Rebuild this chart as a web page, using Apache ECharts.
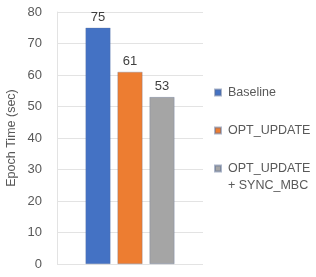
<!DOCTYPE html>
<html><head><meta charset="utf-8">
<script src="https://cdn.jsdelivr.net/npm/echarts@6/dist/echarts.min.js"></script>
<style>html,body{margin:0;padding:0;background:#fff}#c{width:316px;height:277px}</style>
</head><body><div id="c"></div>
<script>
const categories = [''];
const seriesNames = ['Baseline', 'OPT_UPDATE', 'OPT_UPDATE + SYNC_MBC'];
const baseline = [75];
const optUpdate = [61];
const optSync = [53];
const yTicks = [0, 10, 20, 30, 40, 50, 60, 70, 80];
const colors = ['#4472C4', '#ED7D31', '#A5A5A5'];
const values = [baseline, optUpdate, optSync];
const font = 'Liberation Sans, Arial, sans-serif';

const chart = echarts.init(document.getElementById('c'), null, {renderer: 'canvas'});
const legendTops = [86, 124, 162];
chart.setOption({
  animation: false,
  grid: {left: 57, right: 113, top: 12, bottom: 13},
  xAxis: {
    type: 'category', data: categories,
    axisLine: {show: false}, axisTick: {show: false}, axisLabel: {show: false},
    splitLine: {show: false}
  },
  yAxis: {
    type: 'value', min: yTicks[0], max: yTicks[yTicks.length - 1], interval: 10,
    name: 'Epoch Time (sec)', nameLocation: 'middle', nameGap: 39,
    nameTextStyle: {color: '#595959', fontSize: 12.5, fontFamily: font},
    axisLine: {show: true, lineStyle: {color: '#e3e3e3'}},
    axisTick: {show: false},
    axisLabel: {color: '#595959', fontSize: 13, fontFamily: font, margin: 15},
    splitLine: {lineStyle: {color: '#e3e3e3'}}
  },
  legend: seriesNames.map((n, i) => ({
    data: [n], left: 214, top: legendTops[i], orient: 'vertical', padding: 0,
    itemWidth: 6, itemHeight: 6, itemGap: 0, icon: 'rect',
    formatter: (name) => name === seriesNames[2] ? 'OPT_UPDATE' : name,
    textStyle: {color: '#595959', fontSize: 12.5, fontFamily: font, padding: [0, 0, 0, 2]}
  })),
  graphic: [{
    type: 'text', left: 228, top: legendTops[2] + 17,
    style: {text: '+ SYNC_MBC', fill: '#595959', fontSize: 12.5, fontFamily: font}
  }],
  series: seriesNames.map((n, i) => ({
    name: n, type: 'bar', data: values[i], barWidth: 25, barGap: '28%',
    itemStyle: {color: colors[i], borderColor: 'rgba(90,110,150,0.5)', borderWidth: 0.6},
    label: {show: true, position: 'top', distance: 4, color: '#404040', fontSize: 13, fontFamily: font}
  }))
});
</script></body></html>
